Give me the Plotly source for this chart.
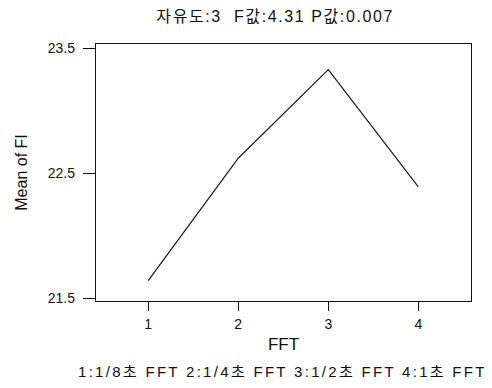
import plotly.graph_objects as go

fft_levels = [1, 2, 3, 4]
mean_fi = [21.64, 22.62, 23.33, 22.39]
y_ticks = [21.5, 22.5, 23.5]
title_text = "자유도:3  F값:4.31 P값:0.007"
caption_text = "1:1/8초 FFT 2:1/4초 FFT 3:1/2초 FFT 4:1초 FFT"

LATIN = "Arial"
MIXED = "Arial, Noto Sans CJK KR"

fig = go.Figure()
fig.add_trace(go.Scatter(x=fft_levels, y=mean_fi, mode="lines",
                         line=dict(color="#1a1a1a", width=1.2),
                         showlegend=False, hoverinfo="skip"))

axis_common = dict(showline=True, linecolor="#111", linewidth=1.3, mirror=True,
                   showgrid=False, zeroline=False, ticks="outside", automargin=False,
                   tickcolor="#111", tickwidth=1,
                   tickfont=dict(family=LATIN, size=14, color="#111"))

# page body has an 8px default margin, so the figure is sized/offset accordingly
fig.update_layout(
    width=484, height=380,
    margin=dict(l=88, r=21, t=36, b=87, autoexpand=False),
    paper_bgcolor="white", plot_bgcolor="white",
    title=dict(text='<span style="letter-spacing:1.6px">' + title_text + '</span>',
               x=0.552, xanchor="center", y=0.979, yanchor="middle",
               automargin=False,
               font=dict(family=MIXED, size=16, color="#111")),
    xaxis=dict(range=[0.42, 4.585], tickvals=fft_levels, ticktext=[str(v) for v in fft_levels],
               ticklen=9, ticklabelstandoff=1,
               title=dict(text="FFT", standoff=7,
                          font=dict(family=LATIN, size=17, color="#111")),
               **axis_common),
    yaxis=dict(range=[21.476, 23.535], tickvals=y_ticks, ticktext=["21.5", "22.5", "23.5"],
               ticklen=12, ticklabelstandoff=5,
               title=dict(text="Mean of FI", standoff=16,
                          font=dict(family=LATIN, size=16, color="#111")),
               **axis_common),
)

fig.add_annotation(text='<span style="letter-spacing:2.3px">' + caption_text + '</span>',
                   xref="paper", yref="paper",
                   x=0.496, y=-0.276, xanchor="center", yanchor="middle", showarrow=False,
                   font=dict(family=MIXED, size=15, color="#111"))

fig.write_html("out.html")
